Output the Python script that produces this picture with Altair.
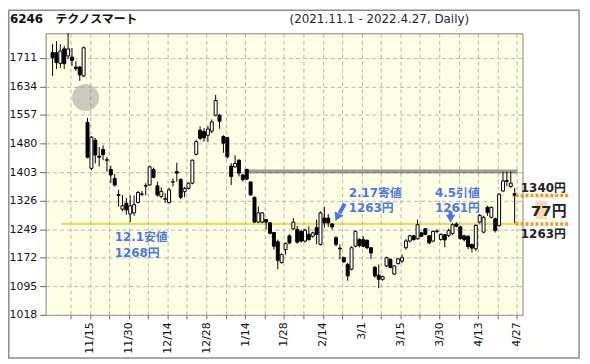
import altair as alt
import pandas as pd

# ---------------- data ----------------
date_labels = ['11/15', '11/30', '12/14', '12/28', '1/14', '1/28',
               '2/14', '3/1', '3/15', '3/30', '4/13', '4/27']
y_ticks = [1018, 1095, 1172, 1249, 1326, 1403, 1480, 1557, 1634, 1711]

opens = [1725, 1725, 1696, 1735, 1716, 1713, 1686, 1686, 1662, 1537,
         1413, 1489, 1446, 1464, 1436, 1410, 1386, 1342, 1303, 1319,
         1290, 1293, 1321, 1343, 1365, 1368, 1410, 1366, 1337, 1331,
         1321, 1376, 1404, 1383, 1350, 1359, 1373, 1451, 1516, 1512,
         1502, 1513, 1556, 1556, 1499, 1496, 1419, 1417, 1435, 1395,
         1410, 1376, 1335, 1268, 1268, 1275, 1266, 1240, 1215, 1159,
         1194, 1231, 1250, 1248, 1243, 1217, 1235, 1230, 1253, 1208,
         1279, 1279, 1263, 1226, 1198, 1172, 1154, 1141, 1203, 1221,
         1221, 1219, 1199, 1146, 1125, 1114, 1150, 1168, 1128, 1156,
         1163, 1199, 1217, 1231, 1223, 1239, 1250, 1231, 1217, 1243,
         1221, 1234, 1232, 1237, 1263, 1255, 1231, 1230, 1208, 1196,
         1268, 1241, 1308, 1281, 1277, 1259, 1352, 1378, 1364, 1345]
highs = [1748, 1756, 1748, 1743, 1777, 1737, 1702, 1689, 1741, 1549,
         1500, 1495, 1471, 1475, 1444, 1420, 1398, 1355, 1341, 1333,
         1340, 1340, 1352, 1352, 1373, 1420, 1415, 1377, 1362, 1346,
         1360, 1386, 1428, 1386, 1363, 1375, 1437, 1490, 1526, 1522,
         1527, 1545, 1611, 1560, 1502, 1498, 1427, 1448, 1437, 1398,
         1412, 1378, 1336, 1310, 1295, 1276, 1268, 1242, 1221, 1183,
         1213, 1235, 1279, 1258, 1248, 1250, 1257, 1242, 1275, 1297,
         1310, 1290, 1266, 1230, 1208, 1175, 1158, 1203, 1246, 1225,
         1230, 1221, 1200, 1150, 1154, 1124, 1175, 1170, 1152, 1172,
         1181, 1222, 1234, 1234, 1275, 1242, 1252, 1233, 1246, 1248,
         1238, 1236, 1250, 1265, 1268, 1258, 1234, 1232, 1210, 1262,
         1290, 1285, 1312, 1310, 1280, 1346, 1404, 1404, 1404, 1360]
lows = [1662, 1681, 1684, 1681, 1708, 1689, 1676, 1649, 1659, 1440,
        1408, 1426, 1418, 1435, 1404, 1373, 1364, 1310, 1297, 1288,
        1268, 1285, 1318, 1338, 1340, 1366, 1386, 1337, 1332, 1320,
        1318, 1364, 1377, 1330, 1335, 1356, 1370, 1448, 1489, 1485,
        1484, 1508, 1553, 1520, 1455, 1440, 1368, 1415, 1391, 1377,
        1381, 1340, 1266, 1266, 1265, 1248, 1235, 1194, 1141, 1156,
        1180, 1208, 1247, 1210, 1213, 1213, 1218, 1226, 1208, 1205,
        1253, 1255, 1248, 1203, 1168, 1158, 1110, 1138, 1200, 1200,
        1200, 1195, 1168, 1118, 1090, 1110, 1147, 1143, 1126, 1154,
        1158, 1194, 1214, 1218, 1221, 1228, 1232, 1209, 1214, 1238,
        1218, 1200, 1228, 1234, 1254, 1220, 1216, 1195, 1186, 1190,
        1264, 1238, 1285, 1278, 1240, 1255, 1350, 1365, 1360, 1265]
closes = [1711, 1698, 1729, 1695, 1735, 1704, 1682, 1665, 1738, 1443,
          1497, 1449, 1443, 1450, 1435, 1395, 1368, 1340, 1312, 1301,
          1312, 1315, 1348, 1344, 1367, 1417, 1389, 1341, 1351, 1330,
          1355, 1377, 1400, 1335, 1359, 1373, 1435, 1485, 1494, 1495,
          1519, 1538, 1596, 1540, 1481, 1444, 1391, 1426, 1400, 1383,
          1384, 1341, 1268, 1293, 1293, 1268, 1238, 1203, 1165, 1181,
          1210, 1212, 1268, 1214, 1217, 1246, 1221, 1239, 1235, 1293,
          1266, 1266, 1255, 1208, 1196, 1161, 1123, 1199, 1243, 1205,
          1203, 1199, 1185, 1123, 1114, 1121, 1172, 1146, 1150, 1169,
          1172, 1217, 1231, 1221, 1261, 1230, 1235, 1212, 1243, 1244,
          1235, 1220, 1245, 1261, 1257, 1224, 1221, 1202, 1198, 1259,
          1286, 1281, 1294, 1308, 1245, 1343, 1379, 1380, 1373, 1340]

# annotation anchors (trading-day index, price)
gap_x, gap_y = [8.5], [1604]
res_x0, res_x1, res_lo, res_hi = [49.5], [119.75], [1399], [1410]
sup_x0, sup_x1, sup_lo, sup_hi = [2.3], [119.75], [1260], [1266]
note_x = [16, 16, 76.25, 76.25, 98.5, 98.5]
note_y = [1228, 1186, 1347, 1307, 1347, 1307]
note_text = ['12.1安値', '1268円', '2.17寄値', '1263円', '4.5引値', '1261円']
arrow_x = [75.25, 102.5]
arrow_x2 = [73.9, 102.5]
arrow_y = [1318, 1297]
arrow_y2 = [1292, 1283]
head_x = [73.3, 102.5]
head_y = [1281, 1277]
head_angle = [205, 180]
gap_lines_y = [1340, 1263]
gap_lines_x0, gap_lines_x1 = 119.25, 133
right_x = [120.6, 123.2, 120.6]
right_y = [1360, 1299, 1237]
right_text = ['1340円', '77円', '1263円']
right_size = [12, 15, 12]

FONT = "DejaVu Sans, 'Noto Sans CJK JP', sans-serif"
BLUE = '#4a78ee'
ORANGE = '#f29a1f'

n = len(opens)
df = pd.DataFrame({'i': list(range(n)), 'open': opens, 'high': highs,
                   'low': lows, 'close': closes})
df['body'] = ['white' if c >= o else 'black' for o, c in zip(opens, closes)]

grid_vals = [round(4.6 + 5 * k, 2) for k in range(24)]
label_arr = [date_labels[k // 2] if k % 2 == 1 else '' for k in range(24)]
label_expr = ("[" + ",".join("'%s'" % s for s in label_arr) +
              "][round((datum.value - 4.6) / 5)]")

x_scale = alt.Scale(domain=[-0.5, 119.75], nice=False, zero=False)
y_scale = alt.Scale(domain=[1018, 1777], nice=False, zero=False)
x_axis = alt.Axis(values=grid_vals, labelExpr=label_expr, labelAngle=-90,
                  grid=True, gridDash=[4, 3], gridColor='#b4b4b4',
                  tickSize=4, tickColor='#666', labelPadding=3,
                  labelFontSize=11, labelFont=FONT, labelColor='#111',
                  domain=False, title=None, labelOverlap=False)
y_axis = alt.Axis(values=y_ticks, format='d', grid=True, gridDash=[4, 3],
                  gridColor='#b4b4b4', tickSize=6, tickColor='#666',
                  labelPadding=3, labelFontSize=11, labelFont=FONT,
                  labelColor='#111', domain=False, title=None,
                  labelOverlap=False)


def X(field, **kw):
    return alt.X(field, type='quantitative', scale=x_scale, axis=x_axis, **kw)


def Y(field, **kw):
    return alt.Y(field, type='quantitative', scale=y_scale, axis=y_axis, **kw)


# support / resistance bands
sup = alt.Chart(pd.DataFrame({'x0': sup_x0, 'x1': sup_x1, 'lo': sup_lo, 'hi': sup_hi})).mark_rect(
    color='#e6bd12', opacity=0.6).encode(x=X('x0'), x2='x1', y=Y('lo'), y2='hi')
res = alt.Chart(pd.DataFrame({'x0': res_x0, 'x1': res_x1, 'lo': res_lo, 'hi': res_hi})).mark_rect(
    color='#5a5a5a', opacity=0.6).encode(x=X('x0'), x2='x1', y=Y('lo'), y2='hi')
gap = alt.Chart(pd.DataFrame({'x': gap_x, 'y': gap_y})).mark_point(
    shape='circle', filled=True, size=740, color='#8c8c8c', opacity=0.45).encode(
    x=X('x'), y=Y('y'))

# candles
wick = alt.Chart(df).mark_rule(color='black', strokeWidth=1).encode(
    x=X('i'), y=Y('low'), y2='high')
body = alt.Chart(df).mark_bar(size=3, stroke='black', strokeWidth=1).encode(
    x=X('i'), y=Y('open'), y2='close', fill=alt.Fill('body:N', scale=None))

# blue notes & arrows
notes = alt.Chart(pd.DataFrame({'x': note_x, 'y': note_y, 't': note_text})).mark_text(
    align='left', baseline='middle', fontSize=12, fontWeight='bold', font=FONT,
    color=BLUE).encode(x=X('x'), y=Y('y'), text='t:N')
shafts = alt.Chart(pd.DataFrame({'x': arrow_x, 'x2': arrow_x2, 'y': arrow_y, 'y2': arrow_y2})).mark_rule(
    color=BLUE, strokeWidth=4).encode(x=X('x'), x2='x2', y=Y('y'), y2='y2')
heads = alt.Chart(pd.DataFrame({'x': head_x, 'y': head_y, 'a': head_angle})).mark_point(
    shape='triangle-up', filled=True, size=90, color=BLUE, opacity=1).encode(
    x=X('x'), y=Y('y'), angle=alt.Angle('a:Q', scale=None))

# right-hand gap annotation
orange_df = pd.DataFrame({'y': gap_lines_y, 'x0': [gap_lines_x0] * 2, 'x1': [gap_lines_x1] * 2})
orange = alt.Chart(orange_df).mark_rule(color=ORANGE, strokeWidth=3.5, strokeDash=[3, 2]).encode(
    x=X('x0'), x2='x1', y=Y('y'))
orange_fill = alt.Chart(pd.DataFrame({'x0': [124.3], 'x1': [127.3], 'lo': [1276], 'hi': [1326]})).mark_rect(
    color=ORANGE, opacity=0.35).encode(x=X('x0'), x2='x1', y=Y('lo'), y2='hi')
right = alt.Chart(pd.DataFrame({'x': right_x, 'y': right_y, 't': right_text, 's': right_size})).mark_text(
    align='left', baseline='middle', fontWeight='bold', font=FONT, color='#222').encode(
    x=X('x'), y=Y('y'), text='t:N', size=alt.Size('s:Q', scale=None))

# frame and titles (page decoration)
one = pd.DataFrame({'a': [0]})
frame = alt.Chart(one).mark_rect(fill='transparent', stroke='#8c8c8c', strokeWidth=1.5).encode(
    x=alt.value(-37.2), x2=alt.value(538), y=alt.value(-23.2), y2=alt.value(327.5))
title = alt.Chart(one).mark_text(align='left', baseline='alphabetic', fontSize=12,
                                 fontWeight='bold', font=FONT, color='#111').encode(
    x=alt.value(-36), y=alt.value(-10), text=alt.value('6246\u00a0\u00a0\u00a0テクノスマート'))
subtitle = alt.Chart(one).mark_text(align='left', baseline='alphabetic', fontSize=12,
                                    font=FONT, color='#1e1e3c').encode(
    x=alt.value(246), y=alt.value(-10), text=alt.value('(2021.11.1 - 2022.4.27, Daily)'))

chart = alt.layer(
    sup, res, gap, wick, body, notes, shafts, heads, orange, orange_fill, right,
    frame, title, subtitle
).properties(
    width=481, height=284,
    autosize=alt.AutoSizeParams(type='none'),
    padding={'left': 38, 'top': 24, 'right': 60, 'bottom': 44},
    background='white'
).configure_view(
    fill='#ffffe6', stroke='#808080', strokeWidth=1
)

chart.save("out.html", embed_options={"renderer": "svg", "actions": False})
